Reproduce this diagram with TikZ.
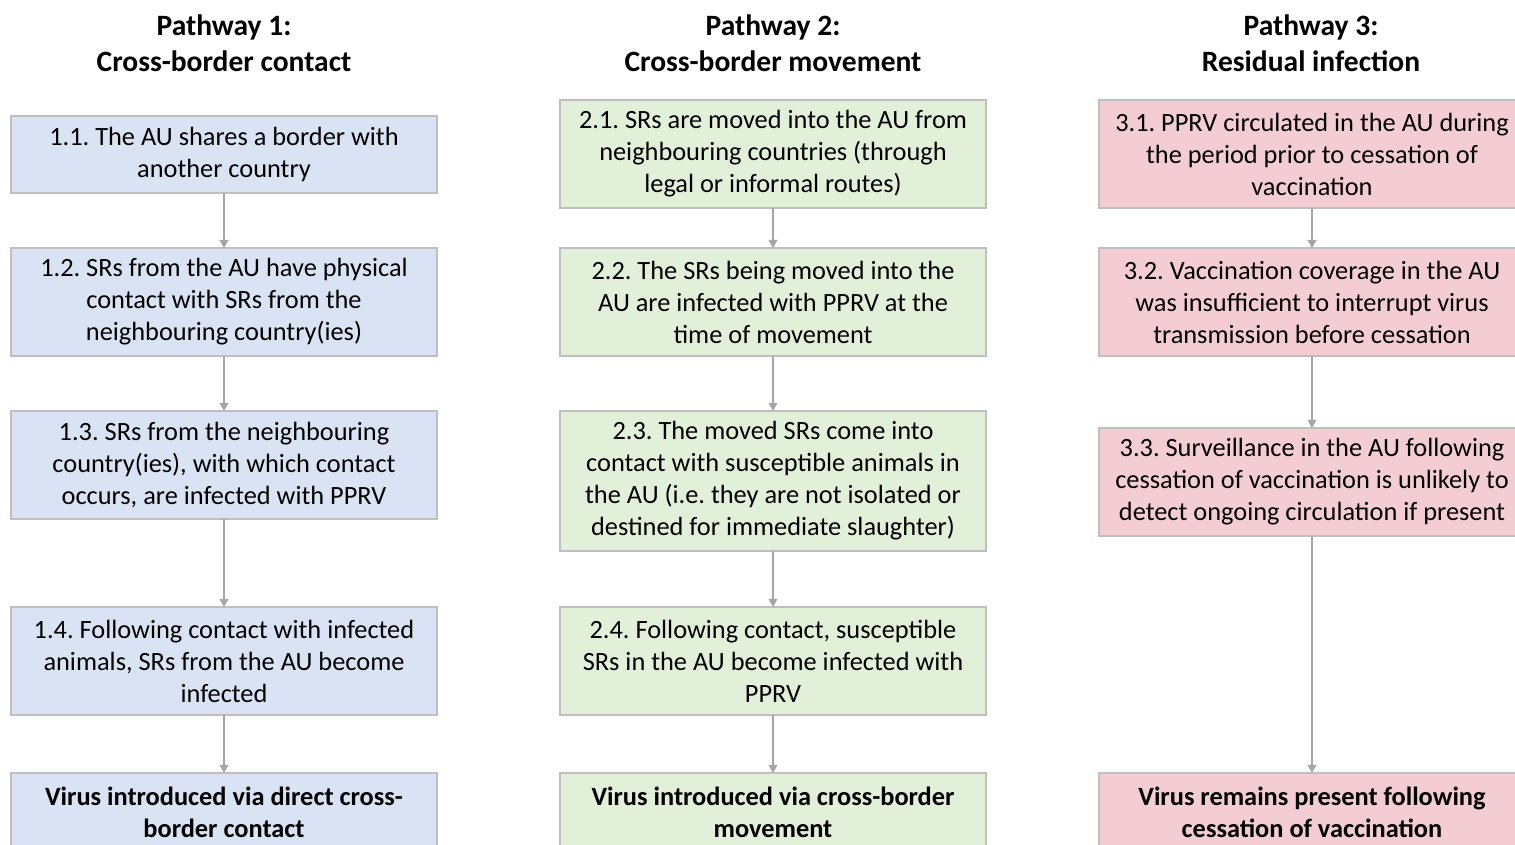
\documentclass[tikz,border=0pt]{standalone}
\usepackage{fontspec}
\setmainfont{Carlito}
\usetikzlibrary{arrows.meta, positioning}
\definecolor{cBlue}{RGB}{218,227,243}
\definecolor{cGreen}{RGB}{226,240,217}
\definecolor{cPink}{RGB}{244,204,212}
\definecolor{cEdge}{RGB}{191,191,191}
\definecolor{cArrow}{RGB}{166,166,166}
\frenchspacing
\tikzset{
  stepbox/.style={draw=cEdge, line width=0.6pt, minimum width=8.52cm, minimum height=2.16cm,
    align=center, inner sep=2pt, outer sep=0pt, font=\fontsize{15}{18.2}\selectfont},
  endbox/.style={stepbox, minimum height=1.56cm, font=\bfseries\fontsize{15}{18.2}\selectfont},
  title/.style={align=center, font=\bfseries\fontsize{16.8}{20.5}\selectfont},
  flow/.style={-{Triangle[length=1.6mm, width=1.7mm]}, draw=cArrow, line width=1.1pt}
}
\begin{document}
\begin{tikzpicture}
  \useasboundingbox (0,0) rectangle (30.3,-16.9);

  % titles
  \node[title] (t1) at (4.48,-0.86) {Pathway 1:\\Cross-border contact};
  \node[title] (t2) at (15.46,-0.86) {Pathway 2:\\Cross-border movement};
  \node[title] (t3) at (26.22,-0.86) {Pathway 3:\\Residual infection};

  % pathway 1
  \node[stepbox, fill=cBlue, anchor=north, minimum height=1.54cm] (p1s1) at (4.48,-2.32)
    {1.1. The AU shares a border with\\another country};
  \node[stepbox, fill=cBlue, below=1.1cm of p1s1] (p1s2)
    {1.2. SRs from the AU have physical\\contact with SRs from the\\neighbouring country(ies)};
  \node[stepbox, fill=cBlue, below=1.1cm of p1s2] (p1s3)
    {1.3. SRs from the neighbouring\\country(ies), with which contact\\occurs, are infected with PPRV};
  \node[stepbox, fill=cBlue, below=1.76cm of p1s3] (p1s4)
    {1.4. Following contact with infected\\animals, SRs from the AU become\\infected};
  \node[endbox, fill=cBlue, below=1.16cm of p1s4] (p1end)
    {Virus introduced via direct cross-\\border contact};

  % pathway 2
  \node[stepbox, fill=cGreen, anchor=north] (p2s1) at (15.46,-2.0)
    {2.1. SRs are moved into the AU from\\neighbouring countries (through\\legal or informal routes)};
  \node[stepbox, fill=cGreen, below=0.8cm of p2s1] (p2s2)
    {2.2. The SRs being moved into the\\AU are infected with PPRV at the\\time of movement};
  \node[stepbox, fill=cGreen, below=1.1cm of p2s2, minimum height=2.8cm] (p2s3)
    {2.3. The moved SRs come into\\contact with susceptible animals in\\the AU (i.e. they are not isolated or\\destined for immediate slaughter)};
  \node[stepbox, fill=cGreen, below=1.12cm of p2s3] (p2s4)
    {2.4. Following contact, susceptible\\SRs in the AU become infected with\\PPRV};
  \node[endbox, fill=cGreen, below=1.16cm of p2s4] (p2end)
    {Virus introduced via cross-border\\movement};

  % pathway 3
  \node[stepbox, fill=cPink, anchor=north] (p3s1) at (26.24,-2.0)
    {3.1. PPRV circulated in the AU during\\the period prior to cessation of\\vaccination};
  \node[stepbox, fill=cPink, below=0.8cm of p3s1] (p3s2)
    {3.2. Vaccination coverage in the AU\\was insufficient to interrupt virus\\transmission before cessation};
  \node[stepbox, fill=cPink, below=1.44cm of p3s2] (p3s3)
    {3.3. Surveillance in the AU following\\cessation of vaccination is unlikely to\\detect ongoing circulation if present};
  \node[endbox, fill=cPink, below=4.74cm of p3s3] (p3end)
    {Virus remains present following\\cessation of vaccination};

  % arrows
  \draw[flow] (p1s1) -- (p1s2);
  \draw[flow] (p1s2) -- (p1s3);
  \draw[flow] (p1s3) -- (p1s4);
  \draw[flow] (p1s4) -- (p1end);
  \draw[flow] (p2s1) -- (p2s2);
  \draw[flow] (p2s2) -- (p2s3);
  \draw[flow] (p2s3) -- (p2s4);
  \draw[flow] (p2s4) -- (p2end);
  \draw[flow] (p3s1) -- (p3s2);
  \draw[flow] (p3s2) -- (p3s3);
  \draw[flow] (p3s3) -- (p3end);
\end{tikzpicture}
\end{document}
